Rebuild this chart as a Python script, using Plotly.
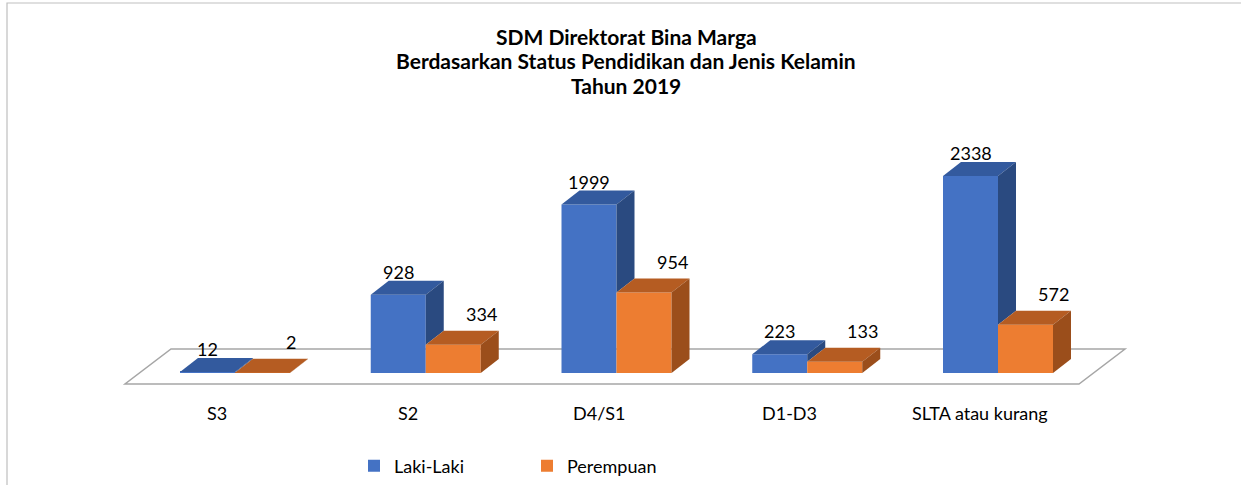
import plotly.graph_objects as go

# ---------------- data ----------------
categories = ["S3", "S2", "D4/S1", "D1-D3", "SLTA atau kurang"]
laki_laki = [12, 928, 1999, 223, 2338]
perempuan = [2, 334, 954, 133, 572]
series_names = ["Laki-Laki", "Perempuan"]
title_lines = ["SDM Direktorat Bina Marga",
               "Berdasarkan Status Pendidikan dan Jenis Kelamin",
               "Tahun 2019"]

# ---------------- geometry (pixel scale of the canvas) ----------------
W, H = 1241, 485
CAT0_PX = 235.0      # pixel x of first category centre
CAT_PX = 190.75      # pixels per category step
BASE_PX = 373.0      # pixel y of value 0 (front edge of bars)
UNIT_PX = 0.08426    # pixels per value unit
BAR_W = 55 / CAT_PX  # bar width in category units
DX = 18 / CAT_PX     # depth offset (x) in category units
DY = 14 / UNIT_PX    # depth offset (y) in value units

FONT = "Lato, 'Open Sans', sans-serif"

BLUE = ("#4472C4", "#335A9E", "#2A4A80")     # front, top, side
ORANGE = ("#ED7D31", "#B55C22", "#9B4E1B")

x_range = [-CAT0_PX / CAT_PX, (W - CAT0_PX) / CAT_PX]
y_range = [-(H - BASE_PX) / UNIT_PX, BASE_PX / UNIT_PX]

n = len(categories)
idx = list(range(n))

fig = go.Figure()

# front faces as real bar traces
for name, vals, col, sign in [(series_names[0], laki_laki, BLUE, -1),
                              (series_names[1], perempuan, ORANGE, 1)]:
    fig.add_trace(go.Bar(
        x=[i + sign * BAR_W / 2 for i in idx], y=vals, width=BAR_W,
        name=name, marker=dict(color=col[0], line=dict(width=0)),
        customdata=categories,
        hovertemplate="%{customdata}<br>" + name + ": %{y}<extra></extra>",
    ))


def poly(pts):
    return "M " + " L ".join(f"{x},{y}" for x, y in pts) + " Z"


shapes = []
# floor
n_last = n - 1
fl_front_y = -11 / UNIT_PX
fl_back_y = 24 / UNIT_PX
fl_left = -110 / CAT_PX
fl_right = n_last + 81 / CAT_PX
fl_shift = 46 / CAT_PX
shapes.append(dict(type="path", layer="below", xref="x", yref="y",
                   path=poly([(fl_left, fl_front_y), (fl_right, fl_front_y),
                              (fl_right + fl_shift, fl_back_y),
                              (fl_left + fl_shift, fl_back_y)]),
                   fillcolor="white", line=dict(color="#A6A6A6", width=1.5)))

for i in idx:
    vb, vo = laki_laki[i], perempuan[i]
    bx0, bx1 = i - BAR_W, i
    ox0, ox1 = i, i + BAR_W
    # blue top
    shapes.append(dict(type="path", layer="above", xref="x", yref="y",
                       path=poly([(bx0, vb), (bx1, vb), (bx1 + DX, vb + DY), (bx0 + DX, vb + DY)]),
                       fillcolor=BLUE[1], line=dict(width=0)))
    # blue side, only the part not hidden by the orange bar
    if vb > vo:
        shapes.append(dict(type="path", layer="above", xref="x", yref="y",
                           path=poly([(bx1, vo), (bx1 + DX, vo + DY), (bx1 + DX, vb + DY), (bx1, vb)]),
                           fillcolor=BLUE[2], line=dict(width=0)))
    # orange top
    shapes.append(dict(type="path", layer="above", xref="x", yref="y",
                       path=poly([(ox0, vo), (ox1, vo), (ox1 + DX, vo + DY), (ox0 + DX, vo + DY)]),
                       fillcolor=ORANGE[1], line=dict(width=0)))
    # orange side
    shapes.append(dict(type="path", layer="above", xref="x", yref="y",
                       path=poly([(ox1, 0), (ox1 + DX, DY), (ox1 + DX, vo + DY), (ox1, vo)]),
                       fillcolor=ORANGE[2], line=dict(width=0)))

# chart border (left and top)
shapes.append(dict(type="path", xref="paper", yref="paper", layer="below",
                   path=f"M {7/W},0 L {7/W},{1-3/H} L 1,{1-3/H}",
                   line=dict(color="#BFBFBF", width=1.2)))

annotations = []
# title, one line per annotation
title_centers_px = [36.5, 60.5, 85.5]
for line, cy in zip(title_lines, title_centers_px):
    annotations.append(dict(x=626 / W, y=1 - cy / H, xref="paper", yref="paper",
                            text="<b>" + line + "</b>", showarrow=False,
                            xanchor="center", yanchor="middle",
                            font=dict(family=FONT, size=21, color="#000000")))
# data labels
for i in idx:
    annotations.append(dict(x=i - BAR_W / 2, y=laki_laki[i] + DY, xref="x", yref="y",
                            text=str(laki_laki[i]), showarrow=False,
                            yanchor="bottom", yshift=-4,
                            font=dict(family=FONT, size=18, color="#000000")))
    annotations.append(dict(x=i + BAR_W / 2, y=perempuan[i] + DY, xref="x", yref="y",
                            text=str(perempuan[i]), showarrow=False,
                            yanchor="bottom", yshift=4, xshift=28,
                            font=dict(family=FONT, size=18, color="#000000")))
# category labels
for i in idx:
    annotations.append(dict(x=i - 18 / CAT_PX, y=-40 / UNIT_PX, xref="x", yref="y",
                            text=categories[i], showarrow=False, yanchor="middle",
                            font=dict(family=FONT, size=18, color="#000000")))

fig.update_layout(
    width=W, height=H,
    margin=dict(l=0, r=0, t=0, b=0),
    paper_bgcolor="white", plot_bgcolor="white",
    barmode="overlay",
    xaxis=dict(range=x_range, visible=False, fixedrange=True),
    yaxis=dict(range=y_range, visible=False, fixedrange=True),
    shapes=shapes,
    annotations=annotations,
    showlegend=True,
    legend=dict(orientation="h", x=(375 - 21) / W, xanchor="left",
                y=1 - 466 / H, yanchor="middle",
                font=dict(family=FONT, size=18, color="#000000"),
                entrywidth=128, entrywidthmode="pixels",
                bgcolor="rgba(0,0,0,0)"),
)

fig.write_html("out.html", config={"displayModeBar": False},
               post_script="document.body.style.margin='0px';")
